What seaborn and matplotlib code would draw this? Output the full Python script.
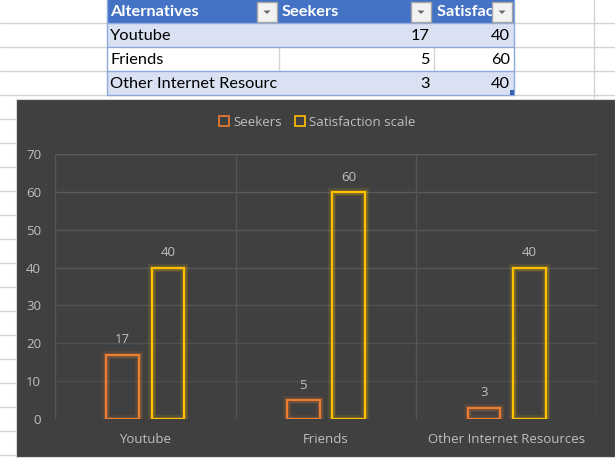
import matplotlib
matplotlib.use("Agg")
import matplotlib.pyplot as plt
import matplotlib.patheffects as pe
from matplotlib.patches import Rectangle, Polygon, Patch
from matplotlib.transforms import Bbox
import seaborn as sns
import pandas as pd

# ---------------- data ----------------
categories = ["Youtube", "Friends", "Other Internet Resources"]
seekers = [17, 5, 3]
satisfaction = [40, 60, 40]
series = ["Seekers", "Satisfaction scale"]
table_headers = ["Alternatives", "Seekers", "Satisfaction scale"]
y_ticks = [0, 10, 20, 30, 40, 50, 60, 70]

W, H = 615, 459
ORANGE = "#ED7D31"
YELLOW = "#FFC000"
TXT = "#bfbfbf"

sns.set_theme(style="white")
plt.rcParams["font.family"] = ["Open Sans", "DejaVu Sans"]
TABLE_FONT = ["Lato", "DejaVu Sans"]
TFS = 11.75

fig = plt.figure(figsize=(W / 100, H / 100), dpi=100)
fig.patch.set_facecolor("white")
bg = fig.add_axes([0, 0, 1, 1])
bg.set_xlim(0, W)
bg.set_ylim(H, 0)
bg.axis("off")


def pxbox(x0, y0, x1, y1):
    return Bbox.from_extents(x0, H - y1, x1, H - y0)


# spreadsheet grid
GRID = "#d4d4d4"
for y in range(23, H, 24):
    bg.plot([0, W], [y, y], color=GRID, lw=1, solid_capstyle="butt", zorder=1)
bg.plot([594, 594], [0, 99], color=GRID, lw=1, zorder=1)

# table
cols = [107, 279, 434, 514]
rows = [0, 23, 47, 71, 95]
bg.add_patch(Rectangle((cols[0], rows[0]), cols[-1] - cols[0], rows[1] - rows[0],
                       facecolor="#4472C4", edgecolor="none", zorder=2))
row_fill = ["#D9E1F2", "white", "#D9E1F2"]
for i, fc in enumerate(row_fill):
    bg.add_patch(Rectangle((cols[0], rows[i + 1]), cols[-1] - cols[0], rows[i + 2] - rows[i + 1],
                           facecolor=fc, edgecolor="none", zorder=2))
for x in cols[1:3]:
    bg.plot([x, x], [rows[2], rows[3]], color=GRID, lw=1, zorder=3)
for y in rows[1:]:
    bg.plot([cols[0], cols[-1]], [y, y], color="#8EA9DB", lw=1, zorder=3)
for x in (cols[0], cols[-1]):
    bg.plot([x, x], [rows[0], rows[-1]], color="#8EA9DB", lw=1, zorder=3)

# header texts
hx = [110, 282, 437]
for j, h in enumerate(table_headers):
    t = bg.text(hx[j], 12, h, color="white", fontweight="bold", fontsize=TFS,
                family=TABLE_FONT, va="center", ha="left", zorder=4)
    t.set_clip_on(True)
    t.set_clip_box(pxbox(cols[j], 0, cols[j + 1], 23))
# dropdown buttons
for bx in (257, 411, 492):
    bg.add_patch(Rectangle((bx, 2), 20, 20, facecolor="#f2f2f2", edgecolor="#a6a6a6",
                           lw=1, zorder=5))
    cx = bx + 10
    bg.add_patch(Polygon([(cx - 3.5, 10.5), (cx + 3.5, 10.5), (cx, 14)], closed=True,
                         facecolor="#6a6a6a", edgecolor="none", zorder=6))
# body texts
for i, cat in enumerate(categories):
    yc = (rows[i + 1] + rows[i + 2]) / 2 + 0.5
    t = bg.text(110, yc, cat, color="black", fontsize=TFS, family=TABLE_FONT,
                va="center", ha="left", zorder=4)
    t.set_clip_on(True)
    t.set_clip_box(pxbox(cols[0], rows[i + 1], cols[1] - 1, rows[i + 2]))
    bg.text(430, yc, str(seekers[i]), color="black", fontsize=TFS, family=TABLE_FONT,
            va="center", ha="right", zorder=4)
    bg.text(510, yc, str(satisfaction[i]), color="black", fontsize=TFS, family=TABLE_FONT,
            va="center", ha="right", zorder=4)
bg.add_patch(Rectangle((510, 90), 4, 5, facecolor="#3a5fb0", edgecolor="none", zorder=6))

# chart area
bg.add_patch(Rectangle((16, 99), W - 16, 457 - 99, facecolor="#404040",
                       edgecolor="#d9d9d9", lw=0.8, zorder=7))

# ---------------- bar chart ----------------
L, R, T, B = 55, 597, 154, 419
ax = fig.add_axes([L / W, 1 - B / H, (R - L) / W, (B - T) / H])
ax.set_zorder(10)
ax.set_facecolor("none")

df = pd.DataFrame({
    "Alternative": categories * 2,
    "Series": [series[0]] * len(categories) + [series[1]] * len(categories),
    "Value": seekers + satisfaction,
})
sns.barplot(data=df, x="Alternative", y="Value", hue="Series", hue_order=series,
            palette=[ORANGE, YELLOW], fill=False, width=0.5, gap=0.28,
            linewidth=1.5, errorbar=None, legend=False, ax=ax)

ax.set_xlim(-0.5, 2.5)
ax.set_ylim(0, 70)
ax.set_yticks(y_ticks)
ax.set_xlabel("")
ax.set_ylabel("")
for s in ax.spines.values():
    s.set_visible(False)

grid_cols = ["#474747", "#4c4c4c", "#505050", "#535353", "#565656", "#585858", "#5a5a5a", "#5c5c5c"]
for v, gc in zip(y_ticks, grid_cols):
    if v == 0:
        continue
    ax.axhline(v, color=gc, lw=1, zorder=0)
for xv in (-0.5, 0.5, 1.5, 2.5):
    ax.axvline(xv, color="#555555", lw=1, zorder=0)

FS = 9.5
ax.tick_params(axis="both", length=0, colors=TXT, labelsize=FS)
ax.tick_params(axis="y", pad=10)
ax.tick_params(axis="x", pad=10)

for patch in ax.patches:
    ec = patch.get_edgecolor()
    patch.set_path_effects([
        pe.Stroke(linewidth=6, foreground=ec, alpha=0.10),
        pe.Stroke(linewidth=3.5, foreground=ec, alpha=0.22),
        pe.Normal(),
    ])

for cont in ax.containers:
    ax.bar_label(cont, padding=6, color=TXT, fontsize=FS)

handles = [Patch(facecolor="none", edgecolor=c, lw=1.2, label=s)
           for c, s in zip([ORANGE, YELLOW], series)]
fig.legend(handles=handles, loc="center", bbox_to_anchor=(317 / W, 1 - 122 / H),
           ncol=2, frameon=False, handlelength=0.75, handleheight=0.75,
           handletextpad=0.3, columnspacing=1.0, labelcolor=TXT, fontsize=FS)

fig.savefig("out.png", dpi=100, facecolor="white")
